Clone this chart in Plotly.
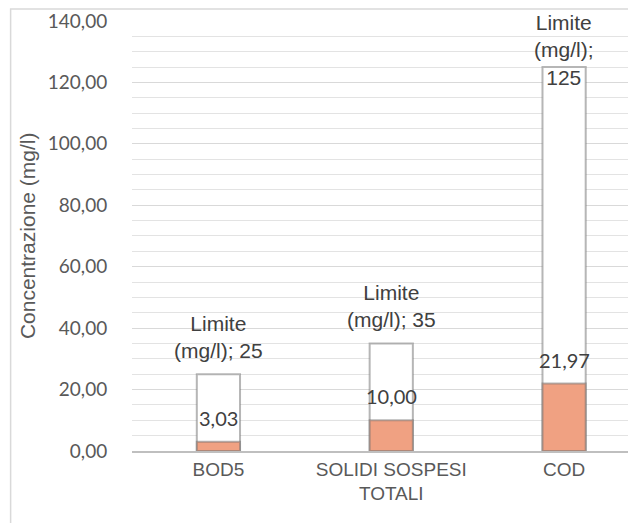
import plotly.graph_objects as go

categories = ["BOD5", "SOLIDI SOSPESI<br>TOTALI", "COD"]
limits = [25, 35, 125]
values = [3.03, 10.00, 21.97]
y_ticks = [0, 20, 40, 60, 80, 100, 120, 140]

YMAX = 140
fmt = lambda v: f"{v:.2f}".replace(".", ",")

fig = go.Figure()
fig.add_bar(x=categories, y=limits, width=0.25,
            marker=dict(color="white", line=dict(color="rgba(110,110,110,0.5)", width=2)),
            hoverinfo="skip")
fig.add_bar(x=categories, y=values, width=0.25,
            marker=dict(color="#f0a182", line=dict(color="rgba(110,110,110,0.5)", width=2)),
            hoverinfo="skip")

ann = []
for c, lim, v in zip(categories, limits, values):
    ann.append(dict(x=c, y=v, text=fmt(v), showarrow=False, yanchor="bottom", yshift=10,
                    font=dict(family="Lato", size=20, color="#404040")))
    if lim > 100:
        ann.append(dict(x=c, y=YMAX, text=f"Limite<br>(mg/l);<br>{lim}", showarrow=False,
                        yanchor="top", yshift=12,
                        font=dict(family="Liberation Sans", size=21, color="#404040")))
    else:
        ann.append(dict(x=c, y=lim, text=f"Limite<br>(mg/l); {lim}", showarrow=False,
                        yanchor="bottom", yshift=10,
                        font=dict(family="Liberation Sans", size=21, color="#404040")))

L, W, T, PH = 123.5, 504.5, 12, 431
ann.append(dict(xref="paper", yref="paper", x=(19 - L) / W, y=0.5, text="Concentrazione (mg/l)",
                textangle=-90, showarrow=False, xanchor="center", yanchor="middle",
                font=dict(family="Liberation Sans", size=21, color="#595959")))

fig.update_layout(
    width=636, height=523,
    margin=dict(l=L, r=636 - L - W, t=T, b=523 - T - PH),
    paper_bgcolor="white", plot_bgcolor="white",
    barmode="overlay", showlegend=False,
    separators=",.",
    annotations=ann,
    shapes=[dict(type="rect", xref="paper", yref="paper",
                 x0=(2 - L) / W, x1=1.2, y0=-0.3, y1=(PH + T - 1) / PH,
                 line=dict(color="#d9d9d9", width=1.5), fillcolor="rgba(0,0,0,0)", layer="below")],
    xaxis=dict(range=[-0.5, 2.416], showgrid=False, showline=True, linecolor="#bfbfbf",
               linewidth=1.5, ticks="", automargin=False,
               tickfont=dict(family="Liberation Sans", size=19, color="#595959")),
    yaxis=dict(range=[0, YMAX + 0.3], tickvals=y_ticks, tickformat=".2f",
               ticklabeloverflow="allow", automargin=False,
               showgrid=True, gridcolor="#d9d9d9", gridwidth=1,
               minor=dict(dtick=5, showgrid=True, gridcolor="#e3e3e3", gridwidth=1),
               ticks="outside", ticklen=20, tickcolor="rgba(0,0,0,0)", zeroline=False,
               tickfont=dict(family="Lato", size=19, color="#595959")),
)
fig.write_html("out.html")
